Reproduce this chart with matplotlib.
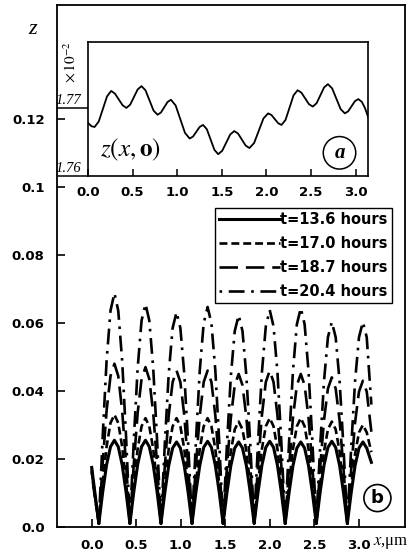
import matplotlib
matplotlib.use("Agg")
import matplotlib.pyplot as plt

# ---- main panel (b): z(x,t) for four times ----
x = [0.000, 0.036,
     0.080, 0.124, 0.167, 0.211, 0.255, 0.298, 0.342, 0.385,
     0.429, 0.473, 0.516, 0.560, 0.604, 0.647, 0.691, 0.734,
     0.778, 0.822, 0.865, 0.909, 0.953, 0.996, 1.040, 1.083,
     1.127, 1.171, 1.214, 1.258, 1.302, 1.345, 1.389, 1.432,
     1.476, 1.520, 1.563, 1.607, 1.651, 1.694, 1.738, 1.781,
     1.825, 1.869, 1.912, 1.956, 2.000, 2.043, 2.087, 2.130,
     2.174, 2.218, 2.261, 2.305, 2.349, 2.392, 2.436, 2.479,
     2.523, 2.567, 2.610, 2.654, 2.698, 2.741, 2.785, 2.828,
     2.872, 2.916, 2.959, 3.003, 3.047, 3.090, 3.142]

z_136 = [0.0175, 0.0100,
         0.0010, 0.0104, 0.0183, 0.0236, 0.0255, 0.0236, 0.0183, 0.0104,
         0.0010, 0.0104, 0.0183, 0.0236, 0.0255, 0.0236, 0.0183, 0.0104,
         0.0010, 0.0102, 0.0180, 0.0232, 0.0250, 0.0232, 0.0180, 0.0102,
         0.0010, 0.0103, 0.0181, 0.0234, 0.0252, 0.0234, 0.0181, 0.0103,
         0.0010, 0.0102, 0.0180, 0.0232, 0.0250, 0.0232, 0.0180, 0.0102,
         0.0010, 0.0103, 0.0181, 0.0234, 0.0252, 0.0234, 0.0181, 0.0103,
         0.0010, 0.0102, 0.0180, 0.0232, 0.0250, 0.0232, 0.0180, 0.0102,
         0.0010, 0.0103, 0.0181, 0.0234, 0.0252, 0.0234, 0.0181, 0.0103,
         0.0010, 0.0102, 0.0180, 0.0232, 0.0250, 0.0232, 0.0190]

z_170 = [0.0170, 0.0095,
         0.0010, 0.0133, 0.0236, 0.0306, 0.0330, 0.0306, 0.0236, 0.0133,
         0.0010, 0.0129, 0.0229, 0.0296, 0.0320, 0.0296, 0.0229, 0.0129,
         0.0010, 0.0129, 0.0229, 0.0296, 0.0320, 0.0296, 0.0229, 0.0129,
         0.0010, 0.0129, 0.0229, 0.0296, 0.0320, 0.0296, 0.0229, 0.0129,
         0.0010, 0.0125, 0.0222, 0.0287, 0.0310, 0.0287, 0.0222, 0.0125,
         0.0010, 0.0129, 0.0229, 0.0296, 0.0320, 0.0296, 0.0229, 0.0129,
         0.0010, 0.0129, 0.0229, 0.0296, 0.0320, 0.0296, 0.0229, 0.0129,
         0.0010, 0.0125, 0.0222, 0.0287, 0.0310, 0.0287, 0.0222, 0.0125,
         0.0010, 0.0121, 0.0215, 0.0278, 0.0300, 0.0278, 0.0220]

z_187 = [0.0165, 0.0090,
         0.0010, 0.0190, 0.0342, 0.0444, 0.0480, 0.0444, 0.0342, 0.0190,
         0.0010, 0.0186, 0.0335, 0.0435, 0.0470, 0.0435, 0.0335, 0.0186,
         0.0010, 0.0182, 0.0328, 0.0426, 0.0460, 0.0426, 0.0328, 0.0182,
         0.0010, 0.0182, 0.0328, 0.0426, 0.0460, 0.0426, 0.0328, 0.0182,
         0.0010, 0.0179, 0.0321, 0.0417, 0.0450, 0.0417, 0.0321, 0.0179,
         0.0010, 0.0182, 0.0328, 0.0426, 0.0460, 0.0426, 0.0328, 0.0182,
         0.0010, 0.0179, 0.0321, 0.0417, 0.0450, 0.0417, 0.0321, 0.0179,
         0.0010, 0.0175, 0.0314, 0.0407, 0.0440, 0.0407, 0.0314, 0.0175,
         0.0010, 0.0171, 0.0307, 0.0398, 0.0430, 0.0398, 0.0280]

z_204 = [0.0160, 0.0085,
         0.0010, 0.0270, 0.0489, 0.0636, 0.0688, 0.0636, 0.0489, 0.0270,
         0.0010, 0.0257, 0.0467, 0.0607, 0.0656, 0.0607, 0.0467, 0.0257,
         0.0010, 0.0248, 0.0450, 0.0585, 0.0632, 0.0585, 0.0450, 0.0248,
         0.0010, 0.0254, 0.0460, 0.0599, 0.0647, 0.0599, 0.0460, 0.0254,
         0.0010, 0.0245, 0.0443, 0.0576, 0.0623, 0.0576, 0.0443, 0.0245,
         0.0010, 0.0251, 0.0454, 0.0590, 0.0638, 0.0590, 0.0454, 0.0251,
         0.0010, 0.0253, 0.0458, 0.0596, 0.0644, 0.0596, 0.0458, 0.0253,
         0.0010, 0.0237, 0.0429, 0.0558, 0.0603, 0.0558, 0.0429, 0.0237,
         0.0010, 0.0237, 0.0429, 0.0558, 0.0603, 0.0558, 0.0360]

labels = ["t=13.6 hours", "t=17.0 hours", "t=18.7 hours", "t=20.4 hours"]
y_ticks = [0.0, 0.02, 0.04, 0.06, 0.08, 0.1, 0.12]
y_ticklabels = ["0.0", "0.02", "0.04", "0.06", "0.08", "0.1", "0.12"]
x_ticks = [0.0, 0.5, 1.0, 1.5, 2.0, 2.5, 3.0]
x_ticklabels = ["0.0", "0.5", "1.0", "1.5", "2.0", "2.5", "3.0"]

# ---- inset (a): initial profile z(x,0), in units of 1e-2 ----
x0 = [0.000, 0.040, 0.074, 0.1205, 0.167, 0.2135, 0.260, 0.3025, 0.345, 0.3875,
      0.430, 0.4725, 0.515, 0.5575, 0.600, 0.645, 0.690, 0.735,
      0.780, 0.8175, 0.855, 0.8925, 0.930, 0.9825, 1.035, 1.0875,
      1.140, 1.1775, 1.215, 1.2525, 1.290, 1.3325, 1.375, 1.4175,
      1.460, 1.505, 1.550, 1.595, 1.640, 1.6825, 1.725, 1.7675,
      1.810, 1.8625, 1.915, 1.9675, 2.020, 2.0575, 2.095, 2.1325,
      2.170, 2.215, 2.260, 2.305, 2.350, 2.3925, 2.435, 2.4775,
      2.520, 2.5625, 2.605, 2.6475, 2.690, 2.7375, 2.785, 2.8325,
      2.880, 2.9175, 2.955, 2.9925, 3.030, 3.070, 3.105, 3.140]
z0 = [1.7678, 1.7673, 1.7672, 1.7680, 1.76985, 1.7717, 1.7725, 1.7721, 1.77125, 1.7704,
      1.7700, 1.77047, 1.7716, 1.77273, 1.7732, 1.77259, 1.7711, 1.76961,
      1.7690, 1.76932, 1.7701, 1.77088, 1.7712, 1.77037, 1.76835, 1.76633,
      1.7655, 1.76579, 1.7665, 1.76721, 1.7675, 1.76687, 1.76535, 1.76383,
      1.7632, 1.7637, 1.7649, 1.7661, 1.7666, 1.76623, 1.76535, 1.76447,
      1.7641, 1.76484, 1.76665, 1.76846, 1.7692, 1.76895, 1.76835, 1.76775,
      1.7675, 1.76824, 1.77005, 1.77186, 1.7726, 1.77225, 1.7714, 1.77055,
      1.7702, 1.77068, 1.77185, 1.77302, 1.7735, 1.77287, 1.77135, 1.76983,
      1.7692, 1.76951, 1.77025, 1.77099, 1.7713, 1.7709, 1.7700, 1.7687]

fig = plt.figure(figsize=(4.18, 5.55), dpi=100)
ax = fig.add_axes([0.1364, 0.0505, 0.8325, 0.9405])

ax.plot(x, z_136, color="black", lw=2.2, ls="-", label=labels[0])
ax.plot(x, z_170, color="black", lw=1.9, ls=(0, (3, 1.5)), label=labels[1])
ax.plot(x, z_187, color="black", lw=1.9, ls=(0, (7, 3)), label=labels[2])
ax.plot(x, z_204, color="black", lw=1.9, ls=(0, (1, 2.5, 6, 2.5)), label=labels[3])

ax.set_xlim(-0.39, 3.52)
ax.set_ylim(0, 0.1535)
ax.set_yticks(y_ticks)
ax.set_yticklabels(y_ticklabels)
ax.set_xticks(x_ticks)
ax.set_xticklabels(x_ticklabels)
ax.tick_params(direction="in", length=6, width=1.2, labelsize=9.5, pad=9)
for lab in ax.get_xticklabels() + ax.get_yticklabels():
    lab.set_fontweight("bold")
for s in ax.spines.values():
    s.set_linewidth(1.3)

leg = ax.legend(loc="upper right", bbox_to_anchor=(0.963, 0.611), borderaxespad=0,
                handlelength=4.2, handletextpad=0.0, labelspacing=0.6,
                fancybox=False, framealpha=1, edgecolor="black",
                prop={"weight": "bold", "size": 10.5}, borderpad=0.3)
leg.get_frame().set_linewidth(1.0)

ax.text(3.21, 0.0085, "b", ha="center", va="center", fontsize=13, fontweight="bold",
        bbox=dict(boxstyle="circle,pad=0.25", fc="white", ec="black", lw=1.2))

fig.text(0.079, 0.946, "z", fontsize=16, style="italic", family="Liberation Serif",
         ha="center", va="center")
fig.text(0.892, 0.0216, "$x$,μm", fontsize=12, family="Liberation Serif",
         ha="left", va="center", math_fontfamily="stix")

# inset
ins = fig.add_axes([0.2105, 0.683, 0.670, 0.2414])
ins.plot(x0, z0, color="black", lw=1.3)
ins.set_xlim(0, 3.14)
ins.set_ylim(1.76, 1.7797)
ins.set_xticks(x_ticks)
ins.set_xticklabels(x_ticklabels)
ins.set_yticks([1.76, 1.77])
ins.set_yticklabels([])
ins.tick_params(axis="x", direction="in", length=5, width=1.1, labelsize=9.5, pad=7)
ins.tick_params(axis="y", direction="out", length=22, width=1.1)
for lab in ins.get_xticklabels():
    lab.set_fontweight("bold")
for s in ins.spines.values():
    s.set_linewidth(1.2)
for v, t in [(1.77, "1.77"), (1.76, "1.76")]:
    ins.text(-0.08, v + 0.0002, t, ha="right", va="bottom", fontsize=10.5,
             style="italic", family="Liberation Serif")

ins.text(0.13, 1.7638, "$z(x,\\mathbf{o})$", fontsize=18, ha="left", va="center",
         math_fontfamily="stix")
ins.text(2.82, 1.7634, "a", ha="center", va="center",
         fontsize=15, fontweight="bold", style="italic", family="Liberation Serif",
         bbox=dict(boxstyle="circle,pad=0.3", fc="white", ec="black", lw=1.1))
fig.text(0.1675, 0.888, "$\\times\\,10^{-2}$", rotation=90, fontsize=11,
         ha="center", va="center", math_fontfamily="stix")

fig.savefig("out.png", dpi=100)
